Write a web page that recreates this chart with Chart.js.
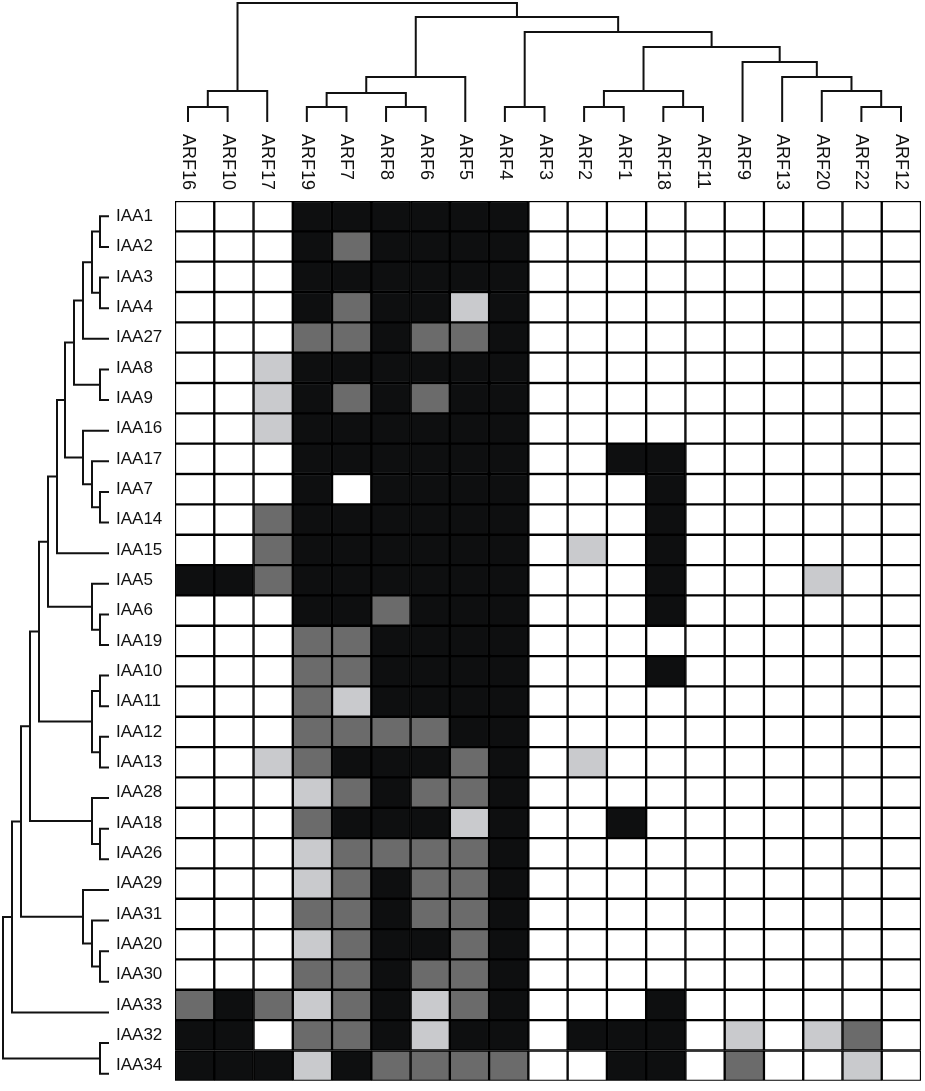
<!DOCTYPE html>
<html>
<head>
<meta charset="utf-8">
<script src="https://cdn.jsdelivr.net/npm/chart.js@4.4.1/dist/chart.umd.min.js"></script>
<style>
  body { margin: 0; background: #fff; }
  #wrap { position: relative; width: 925px; height: 1091px; }
  #wrap canvas { position: absolute; left: 0; top: 0; }
</style>
</head>
<body>
<div id="wrap">
  <canvas id="top-tree" width="925" height="1091"></canvas>
  <canvas id="side-tree" width="925" height="1091"></canvas>
  <canvas id="heatmap" width="925" height="1091"></canvas>
</div>
<script>
const columnLabels = ["ARF16", "ARF10", "ARF17", "ARF19", "ARF7", "ARF8", "ARF6", "ARF5", "ARF4", "ARF3",
  "ARF2", "ARF1", "ARF18", "ARF11", "ARF9", "ARF13", "ARF20", "ARF22", "ARF12"];

const rowLabels = ["IAA1", "IAA2", "IAA3", "IAA4", "IAA27", "IAA8", "IAA9", "IAA16", "IAA17", "IAA7",
  "IAA14", "IAA15", "IAA5", "IAA6", "IAA19", "IAA10", "IAA11", "IAA12", "IAA13", "IAA28",
  "IAA18", "IAA26", "IAA29", "IAA31", "IAA20", "IAA30", "IAA33", "IAA32", "IAA34"];

// 0 = none, 1 = light, 2 = medium, 3 = strong
const cellValues = [
  [0,0,0,3,3,3,3,3,3,0,0,0,0,0,0,0,0,0,0],
  [0,0,0,3,2,3,3,3,3,0,0,0,0,0,0,0,0,0,0],
  [0,0,0,3,3,3,3,3,3,0,0,0,0,0,0,0,0,0,0],
  [0,0,0,3,2,3,3,1,3,0,0,0,0,0,0,0,0,0,0],
  [0,0,0,2,2,3,2,2,3,0,0,0,0,0,0,0,0,0,0],
  [0,0,1,3,3,3,3,3,3,0,0,0,0,0,0,0,0,0,0],
  [0,0,1,3,2,3,2,3,3,0,0,0,0,0,0,0,0,0,0],
  [0,0,1,3,3,3,3,3,3,0,0,0,0,0,0,0,0,0,0],
  [0,0,0,3,3,3,3,3,3,0,0,3,3,0,0,0,0,0,0],
  [0,0,0,3,0,3,3,3,3,0,0,0,3,0,0,0,0,0,0],
  [0,0,2,3,3,3,3,3,3,0,0,0,3,0,0,0,0,0,0],
  [0,0,2,3,3,3,3,3,3,0,1,0,3,0,0,0,0,0,0],
  [3,3,2,3,3,3,3,3,3,0,0,0,3,0,0,0,1,0,0],
  [0,0,0,3,3,2,3,3,3,0,0,0,3,0,0,0,0,0,0],
  [0,0,0,2,2,3,3,3,3,0,0,0,0,0,0,0,0,0,0],
  [0,0,0,2,2,3,3,3,3,0,0,0,3,0,0,0,0,0,0],
  [0,0,0,2,1,3,3,3,3,0,0,0,0,0,0,0,0,0,0],
  [0,0,0,2,2,2,2,3,3,0,0,0,0,0,0,0,0,0,0],
  [0,0,1,2,3,3,3,2,3,0,1,0,0,0,0,0,0,0,0],
  [0,0,0,1,2,3,2,2,3,0,0,0,0,0,0,0,0,0,0],
  [0,0,0,2,3,3,3,1,3,0,0,3,0,0,0,0,0,0,0],
  [0,0,0,1,2,2,2,2,3,0,0,0,0,0,0,0,0,0,0],
  [0,0,0,1,2,3,2,2,3,0,0,0,0,0,0,0,0,0,0],
  [0,0,0,2,2,3,2,2,3,0,0,0,0,0,0,0,0,0,0],
  [0,0,0,1,2,3,3,2,3,0,0,0,0,0,0,0,0,0,0],
  [0,0,0,2,2,3,2,2,3,0,0,0,0,0,0,0,0,0,0],
  [2,3,2,1,2,3,1,2,3,0,0,0,3,0,0,0,0,0,0],
  [3,3,0,2,2,3,1,3,3,0,3,3,3,0,1,0,1,2,0],
  [3,3,3,1,3,2,2,2,2,0,0,3,3,0,2,0,0,1,0],
];

// linkage: [childA, childB, height]; leaves first, new clusters numbered after them
const columnMerges = [
  [0, 1, 15], [19, 2, 31], [3, 4, 15], [5, 6, 15], [21, 22, 29], [23, 7, 45],
  [8, 9, 15], [10, 11, 15], [12, 13, 15], [26, 27, 31], [17, 18, 15], [16, 29, 31],
  [15, 30, 45], [14, 31, 60], [28, 32, 75], [25, 33, 90], [24, 34, 105], [20, 35, 119],
];

const rowMerges = [
  [0, 1, 9], [2, 3, 9], [29, 30, 17], [31, 4, 26], [5, 6, 9], [32, 33, 35],
  [9, 10, 9], [8, 35, 17], [7, 36, 26], [34, 37, 44], [38, 11, 52], [13, 14, 9],
  [12, 40, 17], [39, 41, 61], [15, 16, 9], [17, 18, 9], [43, 44, 17], [42, 45, 70],
  [20, 21, 9], [19, 47, 17], [46, 48, 79], [24, 25, 9], [23, 50, 17], [22, 51, 26],
  [49, 52, 88], [53, 26, 97], [27, 28, 9], [54, 55, 106],
];

const shades = ["#ffffff", "#c9cacd", "#6b6b6b", "#0e0f10"];
const fontFamily = "'Liberation Sans', Arial, sans-serif";

function treeSegments(merges, leafCount) {
  const pos = [];
  const height = [];
  for (let i = 0; i < leafCount; i++) {
    pos[i] = i;
    height[i] = 0;
  }
  return merges.map(([a, b, h], k) => {
    const id = leafCount + k;
    pos[id] = (pos[a] + pos[b]) / 2;
    height[id] = h;
    return [[pos[a], height[a]], [pos[a], h], [pos[b], h], [pos[b], height[b]]];
  });
}

function lineDataset(points) {
  return {
    data: points,
    showLine: true,
    borderColor: "#111",
    borderWidth: 2,
    pointRadius: 0,
    tension: 0,
    clip: false,
  };
}

const commonOptions = {
  responsive: false,
  animation: false,
  events: [],
  plugins: { legend: { display: false }, tooltip: { enabled: false } },
};

const columnLabelPlugin = {
  id: "columnLabels",
  afterDraw(chart) {
    const ctx = chart.ctx;
    const xScale = chart.scales.x;
    ctx.save();
    ctx.fillStyle = "#111";
    ctx.font = "18px " + fontFamily;
    ctx.textAlign = "left";
    ctx.textBaseline = "middle";
    columnLabels.forEach((name, i) => {
      ctx.save();
      ctx.translate(xScale.getPixelForValue(i), 134);
      ctx.rotate(Math.PI / 2);
      ctx.fillText(name, 0, 0);
      ctx.restore();
    });
    ctx.restore();
  },
};

// top dendrogram of ARF columns
new Chart(document.getElementById("top-tree"), {
  type: "scatter",
  data: {
    datasets: treeSegments(columnMerges, columnLabels.length).map((seg) =>
      lineDataset(seg.map(([p, h]) => ({ x: p, y: h })))
    ),
  },
  options: {
    ...commonOptions,
    layout: { padding: { left: 188, right: 24, top: 3, bottom: 969 } },
    scales: {
      x: { type: "linear", min: 0, max: columnLabels.length - 1, display: false },
      y: { type: "linear", min: 0, max: 119, display: false },
    },
  },
  plugins: [columnLabelPlugin],
});

// side dendrogram of IAA rows
new Chart(document.getElementById("side-tree"), {
  type: "scatter",
  data: {
    datasets: treeSegments(rowMerges, rowLabels.length).map((seg) =>
      lineDataset(seg.map(([p, h]) => ({ x: h, y: p })))
    ),
  },
  options: {
    ...commonOptions,
    layout: { padding: { left: 3, right: 816, top: 201, bottom: 2 } },
    scales: {
      x: { type: "linear", min: 0, max: 106, reverse: true, display: false },
      y: { type: "linear", min: -0.5, max: rowLabels.length - 0.5, reverse: true, display: false },
    },
  },
});

// interaction grid
new Chart(document.getElementById("heatmap"), {
  type: "bar",
  data: {
    labels: rowLabels,
    datasets: columnLabels.map((name, c) => ({
      label: name,
      data: rowLabels.map(() => [c, c + 1]),
      backgroundColor: cellValues.map((row) => shades[row[c]]),
      borderColor: "#000",
      borderWidth: 1.5,
      borderSkipped: false,
      barPercentage: 1,
      categoryPercentage: 1,
      grouped: false,
    })),
  },
  options: {
    ...commonOptions,
    indexAxis: "y",
    layout: { padding: { left: 116, right: 4, top: 201, bottom: 2 } },
    scales: {
      x: { type: "linear", min: 0, max: columnLabels.length, display: false },
      y: {
        type: "category",
        grid: { display: false },
        border: { display: false },
        ticks: {
          autoSkip: false,
          crossAlign: "far",
          padding: 0,
          color: "#111",
          font: { size: 17, family: fontFamily },
        },
        afterFit: (scale) => {
          scale.width = 59;
        },
      },
    },
  },
});
</script>
</body>
</html>
